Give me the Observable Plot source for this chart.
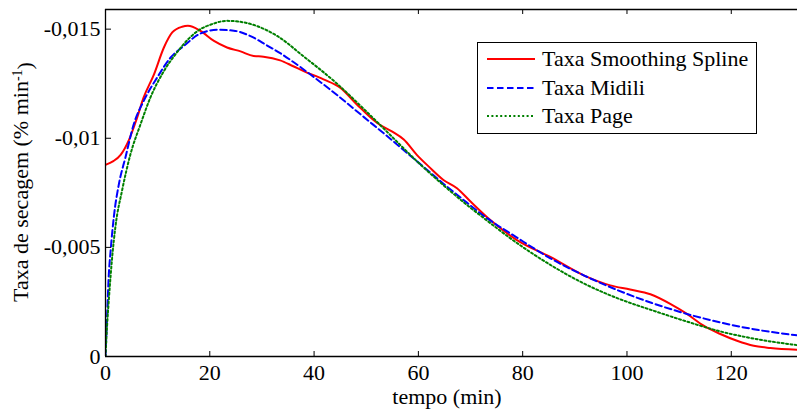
<!DOCTYPE html>
<html><head><meta charset="utf-8">
<script src="https://cdn.jsdelivr.net/npm/d3@7"></script>
<script src="https://cdn.jsdelivr.net/npm/@observablehq/plot@0.6"></script>
<style>
body{margin:0;background:#fff;}
#wrap{position:relative;width:797px;height:409px;font-family:"Liberation Serif","Times New Roman",serif;}
#legend{position:absolute;left:477px;top:42px;width:280px;height:92px;border:1.2px solid #000;background:#fff;box-sizing:border-box;}
.item{position:absolute;left:0;height:28px;display:flex;align-items:center;font-size:22px;color:#000;white-space:nowrap;font-family:"Liberation Serif","Times New Roman",serif;}
.item svg{display:block;}
</style></head><body><div id="wrap"></div>
<script>
const seriesNames = ["Taxa Smoothing Spline", "Taxa Midili", "Taxa Page"];
const seriesColors = ["#ff0000", "#0000ff", "#008000"];
const seriesDash = [null, "6.5,3.5", "2,2.4"];

const splineTime = [0, 1.5, 2.9, 4.5, 6, 7.3, 9.3, 11.2, 12.8, 14.7, 15.8, 18.2, 20.8, 23.3, 25.9, 28.4, 30.3, 33.5, 36, 38, 41.8, 45, 48.2, 52.1, 55, 57.2, 59.7, 62, 64.8, 67.4, 70, 73.8, 78.9, 85.3, 91.7, 96.8, 100.6, 104.5, 108.3, 111.5, 114.7, 117.9, 121.1, 124.3, 127.5, 132.6];
const splineRate = [-0.00878, -0.00895, -0.00924, -0.00993, -0.0109, -0.01186, -0.01293, -0.01416, -0.01485, -0.01511, -0.01515, -0.01492, -0.01446, -0.01416, -0.01398, -0.01377, -0.01374, -0.01357, -0.0133, -0.01308, -0.0127, -0.01232, -0.01155, -0.0107, -0.0103, -0.00994, -0.00924, -0.0087, -0.00809, -0.00771, -0.0071, -0.00625, -0.00533, -0.00456, -0.00372, -0.00326, -0.00307, -0.00285, -0.00241, -0.00195, -0.00141, -0.00103, -0.00072, -0.00049, -0.00039, -0.00031];

const midiliTime = [0, 0.3, 0.6, 1.0, 1.6, 2.6, 3.8, 5.4, 7.3, 9.9, 12.5, 15.0, 18.2, 21.4, 24.6, 27.8, 31.0, 33.5, 35.5, 39.3, 44.4, 49.5, 54.6, 59.7, 64.8, 69.3, 72.5, 78.9, 85.3, 91.7, 98.1, 104.8, 111.5, 117.9, 124.3, 132.6];
const midiliRate = [0, -0.0018, -0.0036, -0.0049, -0.0064, -0.00794, -0.0091, -0.01063, -0.0117, -0.01278, -0.0137, -0.01423, -0.0148, -0.01497, -0.01493, -0.01468, -0.01425, -0.0139, -0.01358, -0.01292, -0.01198, -0.01098, -0.00998, -0.00895, -0.00792, -0.00705, -0.00645, -0.00545, -0.0045, -0.00372, -0.00305, -0.00245, -0.00195, -0.00156, -0.00125, -0.00097];

const pageTime = [0, 0.3, 0.63, 1.3, 1.9, 3.2, 4.8, 6.7, 8.6, 11.2, 13.7, 15.7, 18.2, 20.1, 23.3, 26.5, 29.7, 32.9, 38.0, 44.4, 49.5, 54.6, 59.7, 64.8, 69.3, 72.5, 78.9, 85.3, 91.7, 98.4, 104.8, 111.5, 117.9, 124.3, 132.6];
const pageRate = [0, -0.0014, -0.00257, -0.0046, -0.00594, -0.00763, -0.00928, -0.01063, -0.01186, -0.01308, -0.01393, -0.0145, -0.015, -0.0152, -0.01538, -0.01531, -0.01508, -0.01469, -0.01375, -0.0125, -0.01135, -0.01015, -0.00895, -0.00785, -0.00695, -0.00635, -0.0052, -0.0042, -0.00335, -0.00265, -0.00212, -0.0016, -0.00115, -0.00082, -0.00052];

const xTicks = [0, 20, 40, 60, 80, 100, 120];
const yTicks = [0, -0.005, -0.01, -0.015];
const xDomain = [0, 132.7];
const yDomain = [0, -0.0159];
const xLabel = "tempo (min)";
const yLabelMain = "Taxa de secagem (% min";
const yLabelSup = "-1";

const W = 797, H = 409;
const mLeft = 105, mRight = 0, mTop = 9, mBottom = 53;
const innerW = W - mLeft - mRight, innerH = H - mTop - mBottom;
const serif = '"Liberation Serif","Times New Roman",serif';

const times = [splineTime, midiliTime, pageTime];
const rates = [splineRate, midiliRate, pageRate];
const rows = [];
seriesNames.forEach((name, i) => {
  times[i].forEach((t, j) => rows.push({series: name, t, v: rates[i][j]}));
});

const fmt = d => d === 0 ? "0" : String(d).replace(".", ",");

const lineMarks = seriesNames.map((name, i) => Plot.line(rows.filter(r => r.series === name), {
  x: "t", y: "v", stroke: seriesColors[i], strokeWidth: 2,
  strokeDasharray: seriesDash[i], curve: "monotone-x", clip: true
}));

const chart = Plot.plot({
  width: W, height: H,
  marginLeft: mLeft, marginRight: mRight, marginTop: mTop, marginBottom: mBottom,
  style: {fontFamily: serif, fontSize: "22px", background: "white", color: "black"},
  x: {domain: xDomain},
  y: {domain: yDomain},
  marks: [
    ...lineMarks,
    Plot.ruleX([xDomain[0]], {stroke: "black", strokeWidth: 1.3}),
    Plot.ruleY([yDomain[0]], {stroke: "black", strokeWidth: 1.3}),
    Plot.ruleY([yDomain[1]], {stroke: "black", strokeWidth: 1.3}),
    Plot.tickX(xTicks, {x: d => d, insetTop: innerH - 5, stroke: "black"}),
    Plot.tickX(xTicks, {x: d => d, insetBottom: innerH - 5, stroke: "black"}),
    Plot.tickY(yTicks, {y: d => d, insetRight: innerW - 6, stroke: "black"}),
    Plot.axisX(xTicks, {tickSize: 0, tickPadding: 8, label: null, fontFamily: serif, fontSize: 22, tickFormat: d => String(d)}),
    Plot.axisY(yTicks, {tickSize: 0, tickPadding: 5, label: null, fontFamily: serif, fontSize: 22, tickFormat: fmt})
  ]
});

const svg = d3.select(chart);
svg.append("text")
  .attr("x", 447).attr("y", 404)
  .attr("text-anchor", "middle")
  .attr("font-family", serif)
  .attr("font-size", 22)
  .attr("fill", "black")
  .text(xLabel);
const yl = svg.append("text")
  .attr("transform", "translate(28,182) rotate(-90)")
  .attr("text-anchor", "middle")
  .attr("font-family", serif)
  .attr("font-size", 22)
  .attr("fill", "black");
yl.append("tspan").text(yLabelMain);
yl.append("tspan").attr("dy", "-0.45em").attr("font-size", 14).text(yLabelSup);
yl.append("tspan").attr("dy", "0.45em").text(")");

const wrap = document.getElementById("wrap");
wrap.appendChild(chart);

const legend = document.createElement("div");
legend.id = "legend";
const itemTops = [2, 31, 59];
seriesNames.forEach((name, i) => {
  const item = document.createElement("div");
  item.className = "item";
  item.style.top = itemTops[i] + "px";
  const s = d3.create("svg").attr("width", 64).attr("height", 28);
  s.append("line").attr("x1", 9).attr("x2", 57).attr("y1", 14).attr("y2", 14)
    .attr("stroke", seriesColors[i]).attr("stroke-width", 2)
    .attr("stroke-dasharray", seriesDash[i]);
  item.appendChild(s.node());
  const sp = document.createElement("span");
  sp.textContent = name;
  item.appendChild(sp);
  legend.appendChild(item);
});
wrap.appendChild(legend);
</script>
</body></html>
